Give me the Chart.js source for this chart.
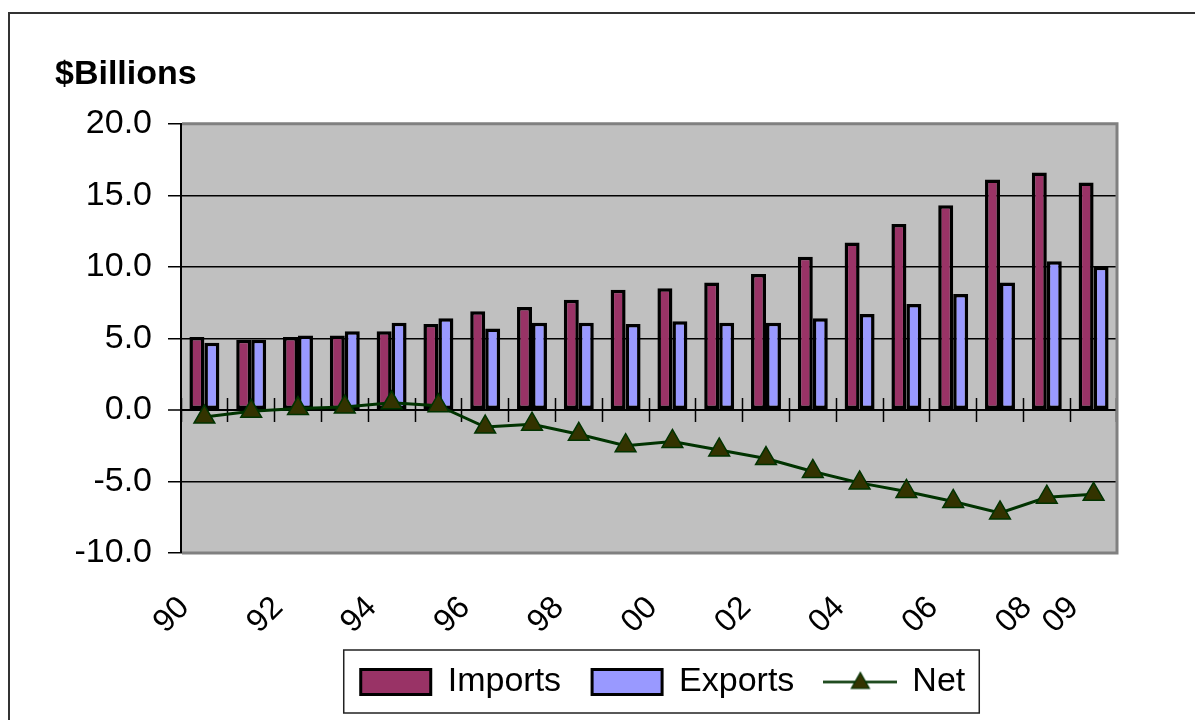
<!DOCTYPE html>
<html>
<head>
<meta charset="utf-8">
<script src="https://cdn.jsdelivr.net/npm/chart.js@4.4.1/dist/chart.umd.min.js"></script>
<style>
  html, body { margin: 0; padding: 0; background: #fff; overflow: hidden; }
  #wrap { position: relative; width: 1195px; height: 720px; }
  #frame { position: absolute; left: 8px; top: 12px; width: 1300px; height: 800px; border: 2px solid #333; pointer-events: none; }
  canvas { position: absolute; left: 0; top: 0; }
</style>
</head>
<body>
<div id="wrap">
  <div id="frame"></div>
  <canvas id="chart" width="1195" height="720"></canvas>
</div>
<script>
const years = ["90", "91", "92", "93", "94", "95", "96", "97", "98", "99",
               "00", "01", "02", "03", "04", "05", "06", "07", "08", "09"];

// $ billions
const imports = [5.1, 4.9, 5.1, 5.2, 5.5, 6.0, 6.9, 7.2, 7.7, 8.4,
                 8.5, 8.9, 9.5, 10.7, 11.7, 13.0, 14.3, 16.1, 16.6, 15.9];
const exports = [4.7, 4.9, 5.2, 5.5, 6.1, 6.4, 5.7, 6.1, 6.1, 6.0,
                 6.2, 6.1, 6.1, 6.4, 6.7, 7.4, 8.1, 8.9, 10.4, 10.0];
const net = [-0.5, -0.1, 0.1, 0.2, 0.5, 0.3, -1.2, -1.0, -1.7, -2.5,
             -2.2, -2.8, -3.4, -4.3, -5.1, -5.7, -6.4, -7.2, -6.1, -5.9];

const yMin = -10;
const yMax = 20;
const yStep = 5;

const FONT = "'Liberation Sans', Arial, sans-serif";

// legend swatch for the Net series: line with a triangle
function netSwatch() {
  const c = document.createElement("canvas");
  c.width = 74;
  c.height = 25;
  const g = c.getContext("2d");
  g.strokeStyle = "#003300";
  g.lineWidth = 2.5;
  g.beginPath();
  g.moveTo(0, 12.5);
  g.lineTo(74, 12.5);
  g.stroke();
  g.fillStyle = "#333300";
  g.beginPath();
  g.moveTo(37, 3);
  g.lineTo(46, 19);
  g.lineTo(28, 19);
  g.closePath();
  g.fill();
  g.strokeStyle = "#003300";
  g.lineWidth = 1.2;
  g.stroke();
  return c;
}

// grey plot area with its border
const plotArea = {
  id: "plotArea",
  beforeDraw(chart) {
    const a = chart.chartArea;
    const ctx = chart.ctx;
    ctx.save();
    ctx.fillStyle = "#c0c0c0";
    ctx.fillRect(a.left, a.top, a.right - a.left, a.bottom - a.top);
    ctx.restore();
  },
  beforeDatasetsDraw(chart) {
    const a = chart.chartArea;
    const ctx = chart.ctx;
    ctx.save();
    ctx.strokeStyle = "#808080";
    ctx.lineWidth = 3;
    ctx.beginPath();
    ctx.moveTo(a.left + 1, a.top);
    ctx.lineTo(a.right, a.top);
    ctx.lineTo(a.right, a.bottom);
    ctx.lineTo(a.left + 1, a.bottom);
    ctx.stroke();
    ctx.restore();
  }
};

// box round the legend
const legendFrame = {
  id: "legendFrame",
  afterDraw(chart) {
    const boxes = chart.legend.legendHitBoxes;
    if (!boxes || !boxes.length) return;
    const left = Math.min(...boxes.map(b => b.left));
    const right = Math.max(...boxes.map(b => b.left + b.width));
    const mid = boxes[0].top + boxes[0].height / 2;
    const ctx = chart.ctx;
    ctx.save();
    ctx.strokeStyle = "#222";
    ctx.lineWidth = 1.5;
    ctx.strokeRect(left - 17, mid - 32, right - left + 31, 63);
    ctx.restore();
  }
};

const ctx = document.getElementById("chart").getContext("2d");

const chart = new Chart(ctx, {
  type: "bar",
  data: {
    labels: years,
    datasets: [
      {
        label: "Imports",
        data: imports,
        backgroundColor: "#993366",
        borderColor: "#000",
        borderWidth: 3.5,
        borderSkipped: false,
        categoryPercentage: 0.64,
        barPercentage: 1.0,
        order: 1
      },
      {
        label: "Exports",
        data: exports,
        backgroundColor: "#9999ff",
        borderColor: "#000",
        borderWidth: 3.5,
        borderSkipped: false,
        categoryPercentage: 0.64,
        barPercentage: 1.0,
        order: 2
      },
      {
        type: "line",
        label: "Net",
        data: net,
        borderColor: "#003300",
        borderWidth: 3,
        pointStyle: "triangle",
        pointRadius: 12,
        pointBackgroundColor: "#333300",
        pointBorderColor: "#003300",
        pointBorderWidth: 1.5,
        tension: 0,
        order: 0
      }
    ]
  },
  options: {
    responsive: false,
    animation: false,
    devicePixelRatio: 1,
    layout: {
      padding: { left: 55, right: -76, top: 37, bottom: 11 }
    },
    plugins: {
      tooltip: { enabled: false },
      title: {
        display: true,
        text: "$Billions",
        align: "start",
        color: "#000",
        font: { family: FONT, size: 34, weight: "bold" },
        padding: { top: 17, bottom: 29 }
      },
      legend: {
        position: "bottom",
        labels: {
          usePointStyle: true,
          pointStyleWidth: 70,
          boxHeight: 25,
          padding: 31,
          color: "#000",
          font: { family: FONT, size: 34 },
          generateLabels(chart) {
            return chart.data.datasets.map((ds, i) => ({
              text: ds.label,
              datasetIndex: i,
              fillStyle: ds.type === "line" ? "transparent" : ds.backgroundColor,
              strokeStyle: "#000",
              lineWidth: ds.type === "line" ? 0 : 3,
              pointStyle: ds.type === "line" ? netSwatch() : "rect",
              fontColor: "#000",
              hidden: false
            }));
          }
        }
      }
    },
    scales: {
      x: {
        grid: { display: false, drawTicks: false },
        border: { display: false },
        ticks: {
          autoSkip: false,
          minRotation: 45,
          maxRotation: 45,
          padding: 36,
          labelOffset: -20,
          color: "#000",
          font: { family: FONT, size: 32 },
          callback(value, index) {
            return (index % 2 === 0 || index === years.length - 1) ? years[index] : "";
          }
        },
        afterFit(scale) { scale.height = 81; }
      },
      // tick marks crossing the zero line
      xDown: {
        type: "category",
        labels: years,
        position: { y: 0 },
        offset: true,
        grid: { offset: true, drawOnChartArea: false, tickLength: 12, tickColor: "#000", tickWidth: 1.5 },
        border: { display: false },
        ticks: { display: false }
      },
      xUp: {
        type: "category",
        labels: years,
        position: { y: 0 },
        offset: true,
        grid: { offset: true, drawOnChartArea: false, tickLength: -12, tickColor: "#000", tickWidth: 1.5 },
        border: { display: false },
        ticks: { display: false }
      },
      y: {
        min: yMin,
        max: yMax,
        grid: {
          color: (c) => (c.tick && (c.tick.value === yMin || c.tick.value === yMax)) ? "transparent" : "#000",
          lineWidth: (c) => (c.tick && c.tick.value === 0) ? 2 : 1.5,
          tickLength: 13,
          tickColor: "#000",
          tickWidth: 1.5
        },
        border: { color: "#000", width: 2 },
        ticks: {
          stepSize: yStep,
          padding: 16,
          color: "#000",
          font: { family: FONT, size: 34 },
          callback: (v) => v.toFixed(1)
        },
        afterFit(scale) { scale.width = 126; }
      },
      yR: {
        type: "linear",
        position: "right",
        grid: { display: false, drawTicks: false },
        border: { display: false },
        ticks: { display: false },
        afterFit(scale) { scale.width = 154; }
      }
    }
  },
  plugins: [plotArea, legendFrame]
});
</script>
</body>
</html>
